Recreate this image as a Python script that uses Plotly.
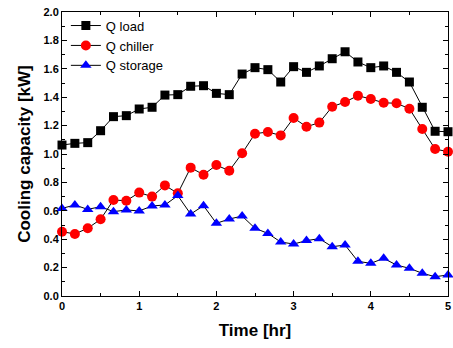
import plotly.graph_objects as go

time_hr = [i / 6 for i in range(31)]
q_load = [1.063, 1.075, 1.08, 1.164, 1.263, 1.27, 1.317, 1.329, 1.415, 1.418,
          1.477, 1.481, 1.427, 1.418, 1.563, 1.608, 1.594, 1.507, 1.615, 1.575,
          1.62, 1.671, 1.72, 1.648, 1.608, 1.62, 1.575, 1.507, 1.329, 1.16, 1.157]
q_chiller = [0.453, 0.437, 0.477, 0.54, 0.676, 0.671, 0.728, 0.70, 0.779, 0.723,
             0.904, 0.854, 0.922, 0.882, 1.005, 1.143, 1.155, 1.131, 1.254, 1.192,
             1.221, 1.333, 1.366, 1.411, 1.387, 1.361, 1.357, 1.319, 1.176, 1.035, 1.016]
q_storage = [0.617, 0.641, 0.61, 0.629, 0.594, 0.606, 0.599, 0.634, 0.641, 0.707,
             0.577, 0.636, 0.512, 0.542, 0.563, 0.477, 0.441, 0.38, 0.366, 0.39,
             0.404, 0.347, 0.359, 0.244, 0.23, 0.265, 0.218, 0.195, 0.16, 0.136, 0.148]

series = [
    ("Q load", q_load, "square", "black", 9),
    ("Q chiller", q_chiller, "circle", "red", 10),
    ("Q storage", q_storage, "triangle-up", "blue", 10),
]

fig = go.Figure()
for name, vals, sym, col, sz in series:
    fig.add_trace(go.Scatter(
        x=time_hr, y=vals, name=name, mode="lines+markers",
        line=dict(color="black", width=1),
        marker=dict(symbol=sym, color=col, size=sz, line=dict(width=0)),
        cliponaxis=False,
    ))

axis_common = dict(
    showline=True, linecolor="black", linewidth=1, mirror="allticks",
    ticks="inside", ticklen=5, tickcolor="black", tickwidth=1,
    showgrid=False, zeroline=False, automargin=False,
    ticklabeloverflow="allow",
    tickfont=dict(family="Liberation Sans", size=11, color="black", weight="bold"),
)

fig.update_xaxes(
    range=[0, 5], dtick=1, tick0=0,
    minor=dict(ticks="inside", ticklen=3, dtick=0.5, tickcolor="black"),
    title=dict(text="Time [hr]", font=dict(family="Liberation Sans", size=17, color="black", weight="bold"), standoff=12),
    **axis_common,
)
fig.update_yaxes(
    range=[0, 2.0], dtick=0.2, tick0=0, tickformat=".1f",
    minor=dict(ticks="inside", ticklen=3, dtick=0.1, tickcolor="black"),
    title=dict(text="Cooling capacity [kW]", font=dict(family="Liberation Sans", size=17, color="black", weight="bold"), standoff=8),
    **axis_common,
)

fig.update_layout(
    width=453, height=348,
    margin=dict(l=62, r=5, t=12, b=52, autoexpand=False),
    paper_bgcolor="white", plot_bgcolor="white",
    showlegend=True,
    legend=dict(x=0.01, y=1.005, xanchor="left", yanchor="top",
                bgcolor="rgba(0,0,0,0)",
                font=dict(family="Liberation Sans", size=13, color="black"),
                tracegroupgap=0, itemwidth=30),
)

fig.write_html("out.html", config={"displayModeBar": False},
               post_script="document.body.style.margin='0';")
